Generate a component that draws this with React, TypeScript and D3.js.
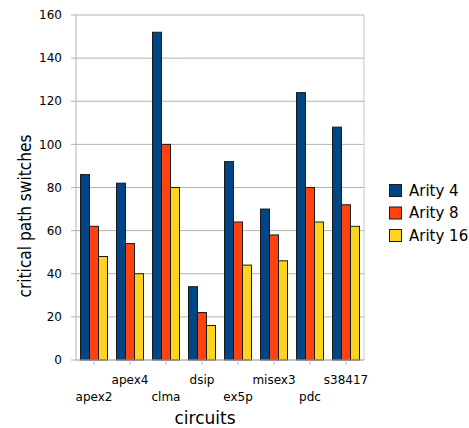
import React from "react";
import * as d3 from "d3";

const categories = ["apex2", "apex4", "clma", "dsip", "ex5p", "misex3", "pdc", "s38417"];
const seriesNames = ["Arity 4", "Arity 8", "Arity 16"];
const arity4 = [86, 82, 152, 34, 92, 70, 124, 108];
const arity8 = [62, 54, 100, 22, 64, 58, 80, 72];
const arity16 = [48, 40, 80, 16, 44, 46, 64, 62];
const yTicks = [0, 20, 40, 60, 80, 100, 120, 140, 160];
const colors = ["#004586", "#ff420e", "#ffd320"];

export default function App() {
  const W = 469, H = 428;
  const left = 76, right = 364, top = 15, bottom = 360;
  const font = "DejaVu Sans, sans-serif";
  const x = d3.scaleBand<string>().domain(categories).range([left, right]).paddingInner(0).paddingOuter(0);
  const y = d3.scaleLinear().domain([0, 160]).range([bottom, top]);
  const series = [arity4, arity8, arity16];
  const barW = 9;
  const groupW = barW * 3;
  return (
    <svg width={W} height={H} style={{ position: "absolute", left: 0, top: 0 }}>
      <rect x={0} y={0} width={W} height={H} fill="#fff" />
      {yTicks.map((t) => (
        <g key={t}>
          <line x1={left} x2={right} y1={y(t)} y2={y(t)} stroke="#b3b3b3" strokeWidth={1} />
          <line x1={left - 5} x2={left} y1={y(t)} y2={y(t)} stroke="#b3b3b3" strokeWidth={1} />
          <text x={62} y={y(t)} dy="0.35em" textAnchor="end" fontSize={12} fontFamily={font} fill="#000">{t}</text>
        </g>
      ))}
      <line x1={right} x2={right} y1={top} y2={bottom} stroke="#c8c8c8" strokeWidth={1} />
      {categories.map((c, i) => {
        const x0 = (x(c) as number) + (x.bandwidth() - groupW) / 2;
        return (
          <g key={c}>
            {series.map((s, k) => (
              <rect key={k} x={x0 + k * barW} y={y(s[i])} width={barW} height={y(0) - y(s[i])}
                fill={colors[k]} stroke="#1a1a1a" strokeWidth={1} />
            ))}
            <line x1={(x(c) as number) + x.bandwidth() / 2} x2={(x(c) as number) + x.bandwidth() / 2}
              y1={bottom} y2={bottom + 5} stroke="#b3b3b3" strokeWidth={1} />
            <text x={(x(c) as number) + x.bandwidth() / 2} y={i % 2 === 0 ? 397 : 380} dy="0.35em"
              textAnchor="middle" fontSize={12} fontFamily={font} fill="#000">{c}</text>
          </g>
        );
      })}
      <line x1={left} x2={right} y1={bottom} y2={bottom} stroke="#b3b3b3" strokeWidth={1} />
      <line x1={left} x2={left} y1={top} y2={bottom} stroke="#b3b3b3" strokeWidth={1} />
      <text x={205} y={418} dy="0.35em" textAnchor="middle" fontSize={17} fontFamily={font} fill="#000">circuits</text>
      <text transform={`translate(25,216) rotate(-90)`} dy="0.35em" textAnchor="middle"
        fontSize={17.5} fontFamily={font} fill="#000" textLength={163} lengthAdjust="spacingAndGlyphs">critical path switches</text>
      {seriesNames.map((n, k) => (
        <g key={n}>
          <rect x={389.5} y={184.5 + k * 22.5} width={12} height={12} fill={colors[k]} stroke="#1a1a1a" strokeWidth={1} />
          <text x={409} y={190.5 + k * 22.5} dy="0.35em" fontSize={15} fontFamily={font} fill="#000">{n}</text>
        </g>
      ))}
    </svg>
  );
}
